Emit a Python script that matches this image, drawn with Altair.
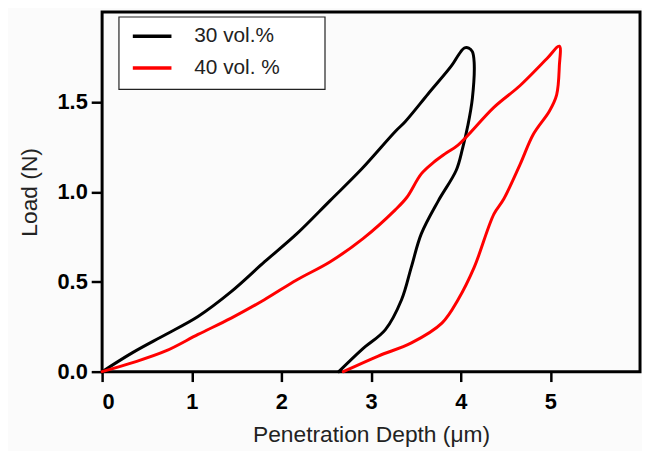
import altair as alt
import pandas as pd

# 30 vol.% loading/unloading curve (path order)
x30 = [0.00, 0.34, 0.71, 1.07, 1.44, 1.81, 2.17, 2.54, 2.90, 3.27, 3.38, 3.64, 3.90, 3.98, 4.04,
       4.09, 4.13, 4.15, 4.13, 4.08, 4.02, 3.95, 3.75, 3.56, 3.45, 3.34, 3.16, 2.90, 2.64]
y30 = [0.000, 0.106, 0.207, 0.307, 0.445, 0.610, 0.766, 0.950, 1.130, 1.336, 1.390, 1.547, 1.703, 1.765, 1.800,
       1.800, 1.780, 1.720, 1.520, 1.370, 1.240, 1.120, 0.950, 0.766, 0.583, 0.400, 0.234, 0.124, 0.000]

# 40 vol. % loading/unloading curve (path order)
x40 = [0.00, 0.34, 0.71, 1.07, 1.44, 1.81, 2.17, 2.54, 2.91, 3.27, 3.40, 3.56, 3.70, 3.82, 3.97, 4.37, 4.66,
       4.96, 5.10, 5.10, 5.07, 4.99, 4.81, 4.66, 4.48, 4.37, 4.15, 3.97, 3.79, 3.45, 3.08, 2.69]
y40 = [0.000, 0.050, 0.115, 0.207, 0.298, 0.400, 0.510, 0.610, 0.740, 0.900, 0.970, 1.100, 1.165, 1.210, 1.260, 1.470, 1.590,
       1.740, 1.810, 1.700, 1.540, 1.450, 1.320, 1.150, 0.960, 0.876, 0.580, 0.400, 0.270, 0.160, 0.087, 0.000]

series = ["30 vol.%", "40 vol. %"]
colors = ["#000000", "#ff0000"]
x_ticks = [0, 1, 2, 3, 4, 5]
y_ticks = [0.0, 0.5, 1.0, 1.5]

rows = []
for name, xs, ys in [(series[0], x30, y30), (series[1], x40, y40)]:
    for i, (a, b) in enumerate(zip(xs, ys)):
        rows.append({"series": name, "depth": a, "load": b, "order": i})
df = pd.DataFrame(rows)

legend_box = alt.Chart(pd.DataFrame({"k": [0]})).mark_rect(
    fill="white", stroke="#222", strokeWidth=1.2
).encode(x=alt.value(17), x2=alt.value(225), y=alt.value(5), y2=alt.value(78))

lines = alt.Chart(df).mark_line(strokeWidth=3, strokeJoin="round", strokeCap="round",
                                interpolate="catmull-rom").encode(
    x=alt.X("depth:Q", scale=alt.Scale(domain=[0, 6], nice=False),
            axis=alt.Axis(values=x_ticks, title="Penetration Depth (\u03bcm)", format="d")),
    y=alt.Y("load:Q", scale=alt.Scale(domain=[0, 2], nice=False),
            axis=alt.Axis(values=y_ticks, title="Load (N)", format=".1f")),
    color=alt.Color("series:N", scale=alt.Scale(domain=series, range=colors),
                    legend=alt.Legend(title=None, orient="none", legendX=29, legendY=3,
                                      symbolType="stroke", symbolSize=1521, symbolStrokeWidth=3.5,
                                      labelFontSize=21, labelFont="Liberation Sans", labelColor="#222",
                                      labelOffset=21, rowPadding=-6, padding=0)),
    order="order:Q",
    detail="series:N",
)

chart = alt.layer(legend_box, lines).properties(
    width=543, height=363,
    autosize=alt.AutoSizeParams(type="none"),
    padding={"left": 95, "top": 2, "right": 2, "bottom": 78},
    background="#fbfbfb",
).configure_view(
    stroke="black", strokeWidth=3, fill="#fbfbfb"
).configure_axis(
    domain=False, grid=False, ticks=True, tickWidth=2.5, tickColor="black",
    labelFont="Liberation Sans", labelFontSize=22, labelFontWeight="bold", labelColor="black",
    titleFont="Liberation Sans", titleFontSize=23, titleFontWeight="normal", titleColor="#222",
).configure_axisX(tickSize=10, labelPadding=10, titlePadding=12).configure_axisY(
    tickSize=11, labelPadding=4, titlePadding=16)

chart.save("out.html", embed_options={"renderer": "svg", "actions": False})
